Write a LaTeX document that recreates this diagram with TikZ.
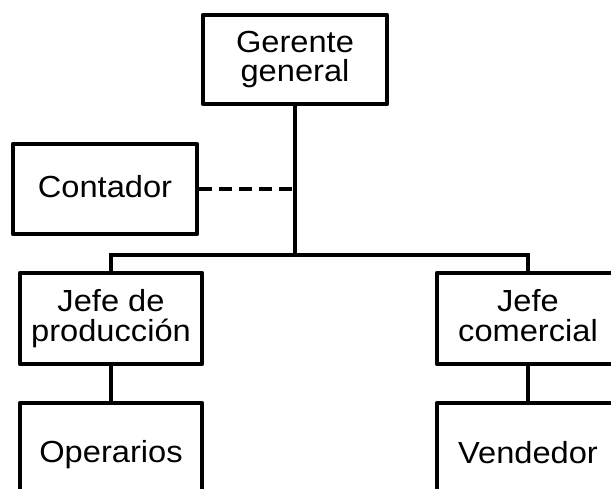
\documentclass[tikz,border=0pt]{standalone}
\usepackage{fontspec}
\setmainfont[FakeStretch=1.07]{Liberation Sans}
\newcommand{\topstrut}{\rule{0pt}{22pt}}
\newcommand{\botstrut}{\rule[-6pt]{0pt}{6pt}}
\begin{document}
\begin{tikzpicture}[x=1pt,y=-1pt,
  box/.style={draw=black,line width=4.6pt,line join=round,rectangle,inner sep=0pt,align=center,
    font=\fontsize{30.5}{29.5}\selectfont,
    execute at begin node=\topstrut, execute at end node=\botstrut},
  conn/.style={draw=black,line width=4.6pt},
  dashconn/.style={conn,dash pattern=on 13pt off 7pt}]
\clip (0,0) rectangle (611,489);
\node[box,minimum width=184pt,minimum height=89pt] (gg) at (295,59.5) {Gerente\\general};
\node[box,minimum width=184pt,minimum height=90pt] (ct) at (105,189) {Contador};
\node[box,minimum width=182pt,minimum height=91pt] (jp) at (111,318.5) {Jefe de\\producción};
\node[box,minimum width=182pt,minimum height=91pt] (jc) at (528,318.5) {Jefe\\comercial};
\node[box,minimum width=182pt,minimum height=104pt] (op) at (111,455) {Operarios};
\node[box,minimum width=182pt,minimum height=104pt] (vd) at (528,455) {Vendedor};
\coordinate (bus) at (295,255);
\draw[conn] (gg.south) -- (bus);
\draw[conn,line join=miter] (jp.north) |- (bus) -| (jc.north);
\draw[dashconn] (ct.east) -- (ct.east -| gg.south);
\draw[conn] (jp.south) -- (op.north);
\draw[conn] (jc.south) -- (vd.north);
\end{tikzpicture}
\end{document}
